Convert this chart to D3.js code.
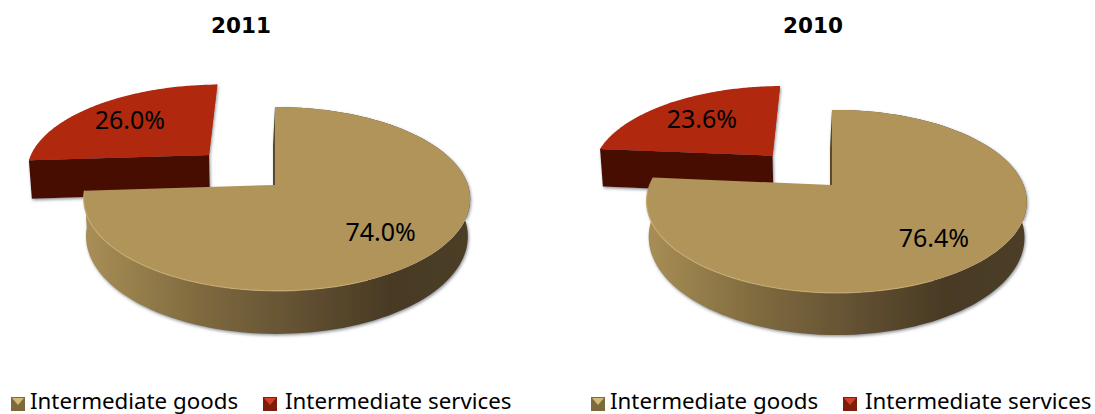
<!DOCTYPE html>
<meta charset="utf-8">
<style>
html, body { margin: 0; padding: 0; background: #fff; overflow: hidden; }
text { fill: #000; }
.title { font: bold 21.5px "DejaVu Sans", sans-serif; text-anchor: middle; }
.label { font: 25px "Noto Sans", sans-serif; text-anchor: middle; }
.legend { font: 22.3px "Noto Sans", sans-serif; }
</style>
<svg width="1095" height="414"></svg>
<script src="https://d3js.org/d3.v7.min.js"></script>
<script>

var categories = ["Intermediate goods", "Intermediate services"];
var years = ["2011", "2010"];
var values2011 = [74.0, 26.0];
var values2010 = [76.4, 23.6];

var topColor = d3.scaleOrdinal().domain(categories).range(["#b0945a", "#b0290e"]);
var wallColor = d3.scaleOrdinal().domain(categories).range(["#5a4a2a", "#470e05"]);

var svg = d3.select("svg");

// where each pie sits on the page, the two pies are not quite the same shape
var layout = [
  {cx: 275, cy: 185, R: 191, squash: 0.47, tilt: [0.01, 0.01], persp: [0.152, 0.152], depth: [36.5, 40],
   pull: [-0.365, -0.353], labelR: [0.70, 0.68], titleX: 241, values: values2011, gradId: "side2011", legendX: [11, 263]},
  {cx: 832, cy: 185, R: 187, squash: 0.473, tilt: [0.024, 0.005], persp: [0.18, 0.152], depth: [34.6, 40],
   pull: [-0.335, -0.35], labelR: [0.72, 0.67], titleX: 813, values: values2010, gradId: "side2010", legendX: [591, 843]}
];

var defs = svg.append("defs");

var shadow = defs.append("filter").attr("id", "shadow")
    .attr("x", "-10%").attr("y", "-10%").attr("width", "120%").attr("height", "125%");
shadow.append("feDropShadow")
    .attr("dx", 1).attr("dy", 1.5).attr("stdDeviation", 1.8)
    .attr("flood-color", "#6a7078").attr("flood-opacity", 0.75);

layout.forEach(function(p) {
  var g = defs.append("linearGradient").attr("id", p.gradId)
      .attr("gradientUnits", "userSpaceOnUse")
      .attr("x1", p.cx - p.R).attr("x2", p.cx + p.R).attr("y1", 0).attr("y2", 0);
  [[0, "#a98f56"], [0.3, "#7f6a3f"], [0.55, "#645233"], [0.8, "#483a24"], [1, "#4b3d26"]].forEach(function(s) {
    g.append("stop").attr("offset", s[0]).attr("stop-color", s[1]);
  });
});

var pie = d3.pie().sort(null).startAngle(0).endAngle(2 * Math.PI);
var line = d3.line();

function drawPie(p, i) {
  var arcs = pie(p.values);
  var g = svg.append("g").attr("class", "pie");

  // services slice is pulled out and painted first, goods overlaps it
  [1, 0].forEach(function(k) {
    var d = arcs[k], name = categories[k];
    var mid = (d.startAngle + d.endAngle) / 2;
    var ox = k === 1 ? p.pull[0] : 0, oy = k === 1 ? p.pull[1] : 0;

    // disc coords -> screen, front of the disc comes out larger
    function project(u, v) {
      var w = 1 - p.persp[k] * v - p.tilt[k] * u;
      return [p.cx + p.R * u / w, p.cy + p.R * p.squash * v / w];
    }
    function drop(pt, u, v) {
      var w = 1 - p.persp[k] * v;
      return [pt[0] + (p.cx - pt[0]) * 0.012, pt[1] + p.depth[k] / w];
    }

    var rim = d3.range(0, 121).map(function(t) {
      var a = d.startAngle + (d.endAngle - d.startAngle) * t / 120;
      return [ox + Math.sin(a), oy - Math.cos(a)];
    });
    var topRim = rim.map(function(q) { return project(q[0], q[1]); });
    var lowRim = rim.map(function(q, j) { return drop(topRim[j], q[0], q[1]); });
    var apex = project(ox, oy), lowApex = drop(apex, ox, oy);

    var walls = g.append("g").attr("filter", "url(#shadow)");

    if (k === 1) {
      // only the radial cut faces the viewer, the curved wall is behind the top
      walls.append("path")
          .attr("d", line([apex, topRim[0], topRim[60], topRim[120]]) + "Z")
          .attr("fill", topColor(name));
      walls.append("path")
          .attr("d", line([apex, topRim[0], lowRim[0], lowApex]) + "Z")
          .attr("fill", wallColor(name));
    } else {
      // outer curved wall
      walls.append("path")
          .attr("d", line(topRim.concat(lowRim.slice().reverse())) + "Z")
          .attr("fill", "url(#" + p.gradId + ")");
      // thin sliver of the cut next to the notch
      var up = topRim[0];
      walls.append("path")
          .attr("d", line([[up[0], up[1]], [apex[0] + 1, apex[1]], [apex[0] - 2, apex[1] + 1], [up[0] - 2, up[1] + 38]]) + "Z")
          .attr("fill", wallColor(name));
    }

    g.append("path")
        .attr("d", line([apex].concat(topRim)) + "Z")
        .attr("fill", topColor(name));

    if (k === 0) {
      // soft bevel on the front edge
      var front = topRim.filter(function(q, j) { return rim[j][1] > 0.05 && rim[j][0] < 0.45; });
      g.append("path")
          .attr("d", line(front))
          .attr("fill", "none")
          .attr("stroke", "#cfb173")
          .attr("stroke-width", 1.2)
          .attr("stroke-opacity", 0.7);
    }

    var lp = project(ox + p.labelR[k] * Math.sin(mid), oy - p.labelR[k] * Math.cos(mid));
    g.append("text").attr("class", "label")
        .attr("x", lp[0]).attr("y", lp[1] + 9)
        .text(d3.format(".1f")(d.data) + "%");
  });

  svg.append("text").attr("class", "title")
      .attr("x", p.titleX).attr("y", 33)
      .text(years[i]);

  // legend
  var markerDark = ["#7d6a3c", "#7e1d0a"], markerLight = ["#d2b978", "#d6402a"];
  var leg = svg.append("g");
  categories.forEach(function(c, j) {
    var x = p.legendX[j], y = 397;
    leg.append("rect").attr("x", x).attr("y", y).attr("width", 14).attr("height", 14)
        .attr("fill", markerDark[j]);
    leg.append("path")
        .attr("d", line([[x + 1, y + 1], [x + 13, y + 1], [x + 7, y + 8]]) + "Z")
        .attr("fill", markerLight[j]);
    leg.append("text").attr("class", "legend")
        .attr("x", x + (j === 0 ? 19 : 22)).attr("y", 408.5)
        .text(c);
  });
}

layout.forEach(drawPie);

</script>
